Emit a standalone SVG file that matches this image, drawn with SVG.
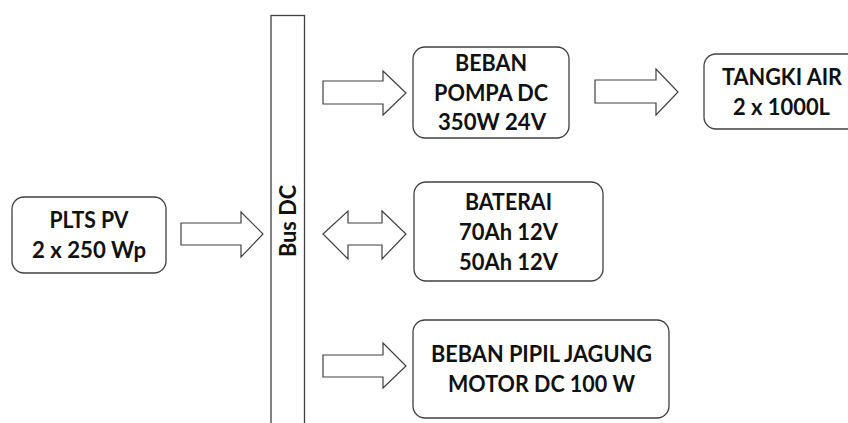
<svg xmlns="http://www.w3.org/2000/svg" width="848" height="423" viewBox="0 0 848 423">
<style>
.box{fill:#fff;stroke:#404040;stroke-width:1.3}
.bar{fill:#fff;stroke:#404040;stroke-width:1.3}
.arr{fill:#fff;stroke:#404040;stroke-width:1.2;stroke-linejoin:miter}
text{font-family:Lato,"Open Sans","Liberation Sans",sans-serif;font-weight:700;font-size:22px;fill:#111;text-anchor:middle}
</style>
<rect width="848" height="423" fill="#fff"/>
<g id="bus">
<rect class="bar" x="271" y="15.5" width="33.5" height="420"/>
<text transform="translate(296,221) rotate(-90)" textLength="72" lengthAdjust="spacingAndGlyphs">Bus DC</text>
</g>
<g id="connectors">
<polygon class="arr" points="181,223 241,223 241,212 263,234 241,257 241,245 181,245"/>
<polygon class="arr" points="323,81 383,81 383,71 406,93 383,115 383,104 323,104"/>
<polygon class="arr" points="595,80 656,80 656,69 678,92 656,115 656,103 595,103"/>
<polygon class="arr" points="323,234 348,211 348,223 382,223 382,211 406,234 382,259 382,245 348,245 348,259"/>
<polygon class="arr" points="323,355 383,355 383,343 406,366 383,388 383,377 323,377"/>
</g>
<g id="plts">
<rect class="box" x="12" y="197" width="154" height="76" rx="12"/>
<text x="89" y="228" textLength="79" lengthAdjust="spacingAndGlyphs">PLTS PV</text>
<text x="89" y="258" textLength="114" lengthAdjust="spacingAndGlyphs">2 x 250 Wp</text>
</g>
<g id="pompa">
<rect class="box" x="413" y="47" width="156" height="91" rx="12"/>
<text x="491" y="71" textLength="72" lengthAdjust="spacingAndGlyphs">BEBAN</text>
<text x="491" y="101" textLength="114" lengthAdjust="spacingAndGlyphs">POMPA DC</text>
<text x="492" y="130" textLength="108" lengthAdjust="spacingAndGlyphs">350W 24V</text>
</g>
<g id="tangki">
<rect class="box" x="704" y="54" width="160" height="75" rx="12"/>
<text x="782" y="85" textLength="120" lengthAdjust="spacingAndGlyphs">TANGKI AIR</text>
<text x="781.5" y="115" textLength="97" lengthAdjust="spacingAndGlyphs">2 x 1000L</text>
</g>
<g id="baterai">
<rect class="box" x="414" y="182" width="189" height="99" rx="12"/>
<text x="508.5" y="210" textLength="87" lengthAdjust="spacingAndGlyphs">BATERAI</text>
<text x="508.5" y="240" textLength="99" lengthAdjust="spacingAndGlyphs">70Ah 12V</text>
<text x="508.5" y="270" textLength="99" lengthAdjust="spacingAndGlyphs">50Ah 12V</text>
</g>
<g id="pipil">
<rect class="box" x="413" y="320" width="256" height="98" rx="12"/>
<text x="541.5" y="362" textLength="221" lengthAdjust="spacingAndGlyphs">BEBAN PIPIL JAGUNG</text>
<text x="541.5" y="392" textLength="187" lengthAdjust="spacingAndGlyphs">MOTOR DC 100 W</text>
</g>
</svg>
